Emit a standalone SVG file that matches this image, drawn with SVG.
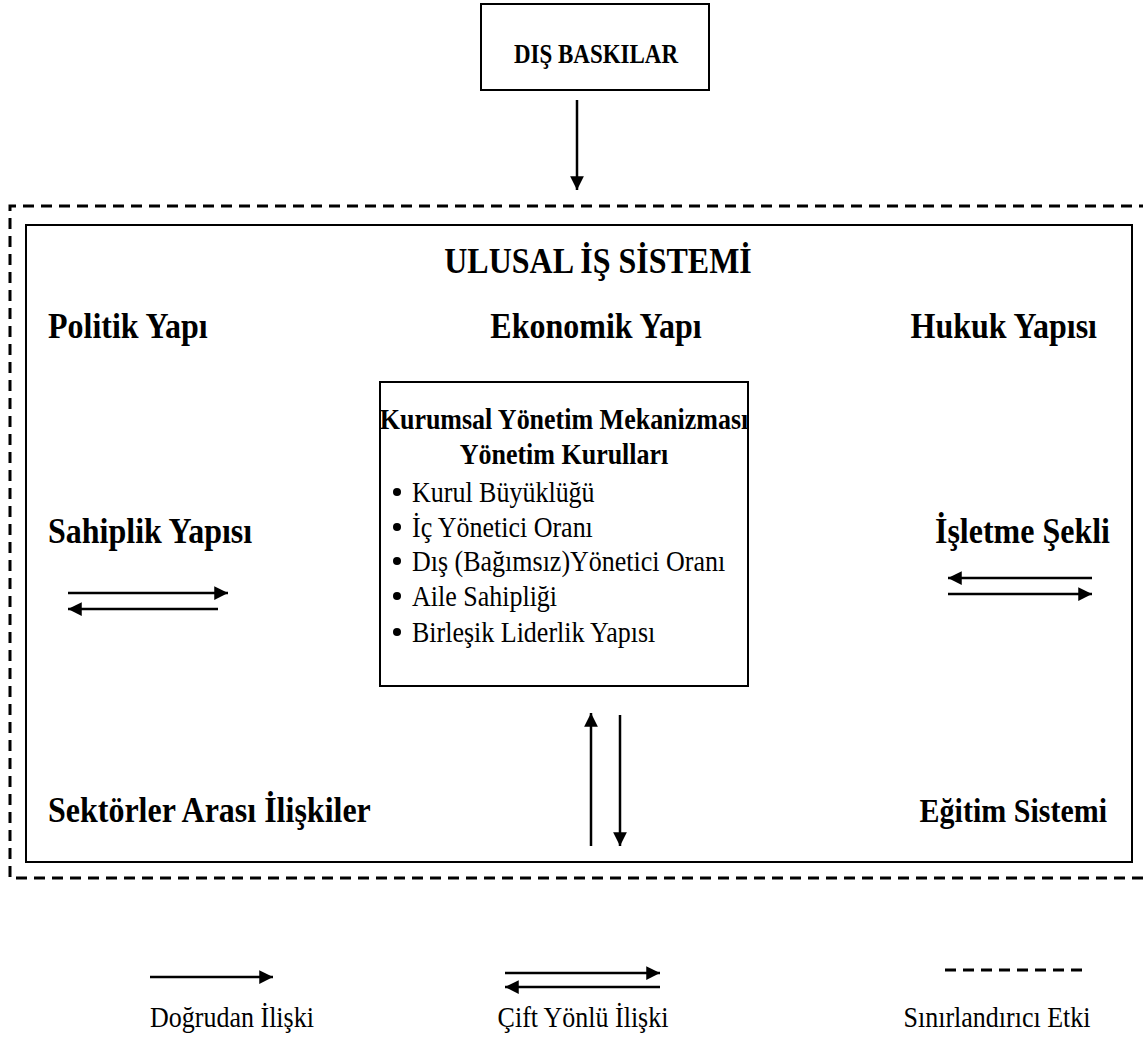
<svg xmlns="http://www.w3.org/2000/svg" width="1143" height="1037" viewBox="0 0 1143 1037">
  <style>
    .b { font-family: "Liberation Serif", "Times New Roman", serif; font-weight: bold; fill: #000; }
    .r { font-family: "Liberation Serif", "Times New Roman", serif; fill: #000; }
    .ln { stroke: #000; stroke-width: 2.5; fill: none; }
    .box { stroke: #000; stroke-width: 2; fill: #fff; }
    .dash { stroke: #000; stroke-width: 3; fill: none; stroke-dasharray: 11 7; }
  </style>
  <defs>
    <marker id="ah" viewBox="0 0 10 10" refX="10" refY="5" markerWidth="5.5" markerHeight="5.5" markerUnits="strokeWidth" orient="auto">
      <path d="M0,0 L10,5 L0,10 z" fill="#000"/>
    </marker>
  </defs>
  <rect width="1143" height="1037" fill="#fff"/>

  <g id="dis-baskilar">
    <rect class="box" x="481" y="4" width="228" height="86" stroke-width="3"/>
    <text class="b" transform="matrix(1 0 0 1.15 596 63)" font-size="23" text-anchor="middle">DIŞ BASKILAR</text>
  </g>

  <g id="sinir">
    <path class="dash" d="M1150,206 H10 V878 H1150"/>
  </g>

  <g id="ulusal-is-sistemi">
    <rect class="box" x="26" y="225" width="1106" height="637"/>
    <text class="b" transform="matrix(1 0 0 1.15 598 273)" font-size="32" text-anchor="middle">ULUSAL İŞ SİSTEMİ</text>
  </g>

  <g id="politik"><text class="b" transform="matrix(1 0 0 1.15 48 338)" font-size="32">Politik Yapı</text></g>
  <g id="ekonomik"><text class="b" transform="matrix(1 0 0 1.15 596 338)" font-size="32" text-anchor="middle">Ekonomik Yapı</text></g>
  <g id="hukuk"><text class="b" transform="matrix(1 0 0 1.15 1097 338)" font-size="32" text-anchor="end">Hukuk Yapısı</text></g>
  <g id="sahiplik"><text class="b" transform="matrix(1 0 0 1.15 48 543)" font-size="32">Sahiplik Yapısı</text></g>
  <g id="isletme"><text class="b" transform="matrix(1 0 0 1.15 1110 543)" font-size="32" text-anchor="end">İşletme Şekli</text></g>
  <g id="sektorler"><text class="b" transform="matrix(1 0 0 1.15 48 822)" font-size="32">Sektörler Arası İlişkiler</text></g>
  <g id="egitim"><text class="b" transform="matrix(1 0 0 1.15 1107 822)" font-size="30" text-anchor="end">Eğitim Sistemi</text></g>

  <g id="kurumsal">
    <rect class="box" x="380" y="382" width="368" height="304"/>
    <text class="b" transform="matrix(1 0 0 1.15 564 429)" font-size="26" text-anchor="middle">Kurumsal Yönetim Mekanizması</text>
    <text class="b" transform="matrix(1 0 0 1.15 564 464)" font-size="26" text-anchor="middle">Yönetim Kurulları</text>
    <g class="r" font-size="26">
      <circle cx="397" cy="492" r="4"/><text transform="matrix(1 0 0 1.15 412 502)">Kurul Büyüklüğü</text>
      <circle cx="397" cy="527" r="4"/><text transform="matrix(1 0 0 1.15 412 537)">İç Yönetici Oranı</text>
      <circle cx="397" cy="561" r="4"/><text transform="matrix(1 0 0 1.15 412 571)">Dış (Bağımsız)Yönetici Oranı</text>
      <circle cx="397" cy="596" r="4"/><text transform="matrix(1 0 0 1.15 412 606)">Aile Sahipliği</text>
      <circle cx="397" cy="632" r="4"/><text transform="matrix(1 0 0 1.15 412 642)">Birleşik Liderlik Yapısı</text>
    </g>
  </g>

  <g id="connectors">
    <line class="ln" x1="577" y1="100" x2="577" y2="190" marker-end="url(#ah)"/>
    <line class="ln" x1="68" y1="593" x2="228" y2="593" marker-end="url(#ah)"/>
    <line class="ln" x1="218" y1="609" x2="68" y2="609" marker-end="url(#ah)"/>
    <line class="ln" x1="1092" y1="578" x2="948" y2="578" marker-end="url(#ah)"/>
    <line class="ln" x1="948" y1="594" x2="1092" y2="594" marker-end="url(#ah)"/>
    <line class="ln" x1="591" y1="846" x2="591" y2="713" stroke-width="2" marker-end="url(#ah)"/>
    <line class="ln" x1="620" y1="715" x2="620" y2="846" stroke-width="2" marker-end="url(#ah)"/>
  </g>

  <g id="legend">
    <line class="ln" x1="150" y1="977" x2="273" y2="977" marker-end="url(#ah)"/>
    <text class="r" transform="matrix(1 0 0 1.15 232 1027)" font-size="26" text-anchor="middle">Doğrudan İlişki</text>
    <line class="ln" x1="505" y1="973" x2="660" y2="973" marker-end="url(#ah)"/>
    <line class="ln" x1="660" y1="987" x2="505" y2="987" marker-end="url(#ah)"/>
    <text class="r" transform="matrix(1 0 0 1.15 583 1027)" font-size="26" text-anchor="middle">Çift Yönlü İlişki</text>
    <line class="dash" x1="945" y1="970" x2="1082" y2="970"/>
    <text class="r" transform="matrix(1 0 0 1.15 997 1027)" font-size="26" text-anchor="middle">Sınırlandırıcı Etki</text>
  </g>
</svg>
